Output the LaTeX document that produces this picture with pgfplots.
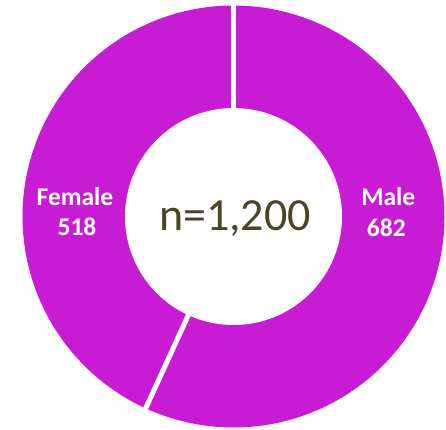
\documentclass[border=0pt]{standalone}
\usepackage{pgfplots}
\pgfplotsset{compat=1.18}
\usepackage{pgfplotstable}
\usepackage{fontspec}
\setmainfont{Carlito}
\definecolor{pie}{RGB}{200,28,212}
\definecolor{ntext}{RGB}{74,69,41}
\pgfplotstableread{
label value
Male 682
Female 518
}\datatable
\pgfplotstablegetelem{0}{value}\of\datatable\let\vmale\pgfplotsretval
\pgfplotstablegetelem{1}{value}\of\datatable\let\vfemale\pgfplotsretval
\pgfmathsetmacro{\frM}{\vmale/(\vmale+\vfemale)}
\pgfmathsetmacro{\aM}{90-360*\frM}
\def\cx{233.5}
\def\cy{212.5}
\def\R{211}
\def\r{108.5}
\begin{document}
\begin{tikzpicture}
\begin{axis}[
  scale only axis, width=446pt, height=429pt,
  xmin=0, xmax=446, ymin=0, ymax=429,
  axis line style={draw=none}, ticks=none, clip=false,
]
% Male slice
\addplot[fill=pie, draw=none, domain=90:\aM, samples=240, variable=\t]
  ({\cx+\R*cos(\t)},{\cy+\R*sin(\t)}) -- (axis cs:\cx,\cy) -- cycle;
% Female slice
\addplot[fill=pie, draw=none, domain=\aM:-270, samples=240, variable=\t]
  ({\cx+\R*cos(\t)},{\cy+\R*sin(\t)}) -- (axis cs:\cx,\cy) -- cycle;
% separators
\addplot[white, line width=5pt, domain=0:213, samples=2, variable=\t]
  ({\cx+\t*cos(90)},{\cy+\t*sin(90)});
\addplot[white, line width=5pt, domain=0:213, samples=2, variable=\t]
  ({\cx+\t*cos(\aM)},{\cy+\t*sin(\aM)});
% hole
\addplot[fill=white, draw=none, domain=0:360, samples=240, variable=\t]
  ({\cx+\r*cos(\t)},{\cy+\r*sin(\t)}) -- cycle;
% labels
\node[anchor=base, text=white, font=\bfseries\fontsize{25.5}{29}\selectfont] at (axis cs:75,224) {Female};
\node[anchor=base, text=white, font=\bfseries\fontsize{25.5}{29}\selectfont] at (axis cs:77,193.3) {518};
\node[anchor=base, text=white, font=\bfseries\fontsize{25.5}{29}\selectfont] at (axis cs:388.3,223.3) {Male};
\node[anchor=base, text=white, font=\bfseries\fontsize{25.5}{29}\selectfont] at (axis cs:386.3,193) {682};
\node[anchor=base, text=ntext, font=\fontsize{46}{52}\selectfont] at (axis cs:235,199) {n=1,200};
\end{axis}
\pgfresetboundingbox
\path (current axis.south west) rectangle (current axis.north east);
\end{tikzpicture}
\end{document}
